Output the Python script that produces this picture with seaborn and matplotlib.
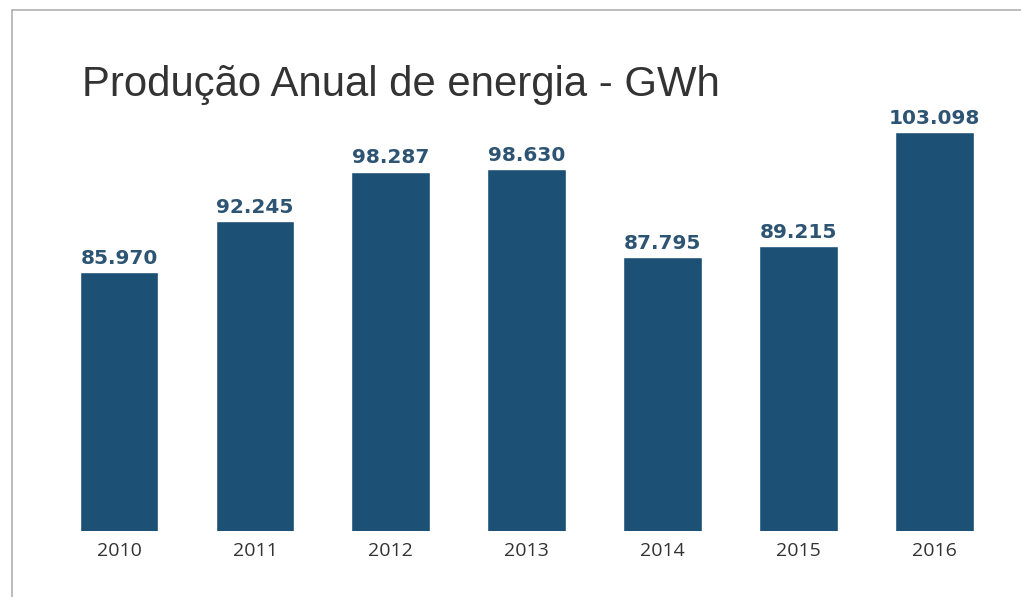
import matplotlib
matplotlib.use("Agg")
import matplotlib.pyplot as plt
import seaborn as sns
import pandas as pd
from matplotlib.lines import Line2D

# dados do slide
anos = ["2010", "2011", "2012", "2013", "2014", "2015", "2016"]
producao = [85.970, 92.245, 98.287, 98.630, 87.795, 89.215, 103.098]
rotulos = ["85.970", "92.245", "98.287", "98.630", "87.795", "89.215", "103.098"]

df = pd.DataFrame({"ano": anos, "gwh": producao})

sns.set_style("white")
plt.rcParams["font.family"] = ["Open Sans", "DejaVu Sans"]

fig = plt.figure(figsize=(10.21, 5.97), dpi=100)
ax = fig.add_axes([0.05, 0.1106, 0.932, 0.722])

sns.barplot(data=df, x="ano", y="gwh", color="#1d5075", saturation=1,
            width=0.58, ax=ax)

ax.set_ylim(54.3, 107.05)
ax.set_xlim(-0.5, 6.5)
ax.bar_label(ax.containers[0], labels=rotulos, padding=3,
             fontsize=14.5, fontweight="bold", color="#2d5573",
             family="DejaVu Sans")

ax.set_xlabel("")
ax.set_ylabel("")
ax.set_yticks([])
ax.tick_params(axis="x", length=0, pad=8, labelsize=14, labelcolor="#333333")
sns.despine(ax=ax, left=True, bottom=True)

fig.text(0.08, 0.84, "Produção Anual de energia - GWh", fontsize=30.2,
         color="#333333", family=["Liberation Sans", "DejaVu Sans"])

# moldura do slide
fig.add_artist(Line2D([12 / 1021, 1.0], [1 - 10 / 597, 1 - 10 / 597],
                      color="#b0b0b0", lw=1.2))
fig.add_artist(Line2D([12 / 1021, 12 / 1021], [0.0, 1 - 10 / 597],
                      color="#b0b0b0", lw=1.2))

fig.savefig("out.png", dpi=100)
